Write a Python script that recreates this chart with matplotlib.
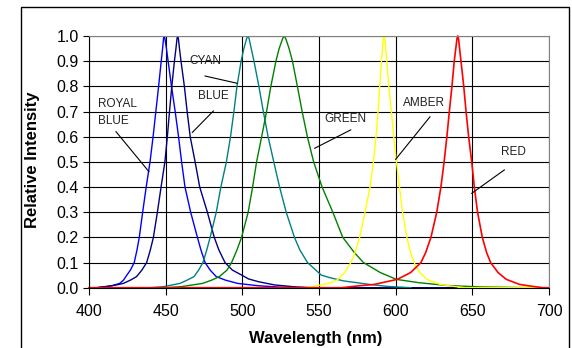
import matplotlib
matplotlib.use("Agg")
import matplotlib.pyplot as plt
from matplotlib.patches import Rectangle

plt.rcParams['font.family'] = ['Liberation Sans', 'DejaVu Sans']

# spectra (wavelength in nm, relative intensity)
royal_nm = [400, 405, 410, 415, 420, 422.5, 424, 427, 429.5, 431.3, 432.8, 435, 437.3, 439.8, 441.8, 443.6, 445.4,
            447.1, 448, 448.6, 449, 449.5, 450.5, 451.6, 453.8, 456.2, 458.4, 460.4, 462.6, 466.3, 470.7, 473,
            475.7, 479, 483, 489, 497, 510, 525, 545]
royal_i = [0, 0, 0.004, 0.008, 0.017, 0.03, 0.044, 0.07, 0.1, 0.15, 0.2, 0.3, 0.4, 0.5, 0.6, 0.7, 0.8,
           0.9, 0.95, 0.99, 1.0, 0.99, 0.95, 0.9, 0.8, 0.7, 0.6, 0.5, 0.4, 0.3, 0.2, 0.15,
           0.1, 0.07, 0.044, 0.03, 0.017, 0.008, 0.002, 0]

blue_nm = [400, 405, 412, 417, 422.4, 427, 431, 434.5, 437.6, 440, 442, 444.6, 447, 449.5, 451.1, 452.5, 454,
           455.7, 456.7, 457.4, 457.8, 458.3, 459, 460, 462.2, 464, 466, 469.2, 472.2, 477.2, 481.7, 484.7,
           488.7, 493.5, 499.6, 504, 510.4, 521, 535, 545, 640]
blue_i = [0, 0, 0.005, 0.01, 0.017, 0.03, 0.044, 0.07, 0.1, 0.15, 0.2, 0.3, 0.4, 0.5, 0.6, 0.7, 0.8,
          0.9, 0.95, 0.99, 1.0, 0.99, 0.95, 0.9, 0.8, 0.7, 0.6, 0.5, 0.4, 0.3, 0.2, 0.15,
          0.1, 0.07, 0.05, 0.035, 0.024, 0.011, 0.003, 0, 0]

cyan_nm = [440, 448.5, 459.3, 464, 468.5, 471.5, 474.3, 476.8, 479, 483, 486, 489.6, 492.3, 494.5, 496.5,
           499.2, 501, 502.8, 503.6, 504.4, 505.8, 507.6, 510.8, 513.7, 516.8, 520.5, 524.3, 528.6, 534,
           537.5, 542.5, 551.5, 557, 566, 583, 595, 610]
cyan_i = [0, 0.004, 0.017, 0.03, 0.044, 0.07, 0.1, 0.15, 0.2, 0.3, 0.4, 0.5, 0.6, 0.7, 0.8,
          0.9, 0.95, 0.99, 1.0, 0.99, 0.95, 0.9, 0.8, 0.7, 0.6, 0.5, 0.4, 0.3, 0.2,
          0.15, 0.1, 0.05, 0.04, 0.027, 0.013, 0.005, 0]

green_nm = [450, 460, 474, 480, 485, 490, 493, 496.5, 499.5, 503.8, 506.7, 509.3, 512.6, 515.8, 518.6,
            521.9, 524, 526.3, 527.3, 528.3, 530.5, 532.7, 535.9, 539, 542.4, 546.5, 552, 559, 565.5,
            573, 579, 590, 600.5, 615, 633, 655, 690]
green_i = [0, 0.004, 0.017, 0.03, 0.044, 0.07, 0.1, 0.15, 0.2, 0.3, 0.4, 0.5, 0.6, 0.7, 0.8,
           0.9, 0.95, 0.99, 1.0, 0.99, 0.95, 0.9, 0.8, 0.7, 0.6, 0.5, 0.4, 0.3, 0.2,
           0.14, 0.1, 0.06, 0.033, 0.02, 0.009, 0.003, 0]

amber_nm = [540, 545, 558, 562.3, 566.6, 570.8, 573.5, 576.5, 580, 583.3, 585.5, 587.2, 588.5, 589.6,
            590.7, 591.4, 592, 592.4, 592.9, 593.5, 594.2, 595.5, 597.2, 598.7, 600.5, 602.5, 604.5,
            607.3, 609.7, 612, 615.7, 620.5, 629, 635.6, 645, 690]
amber_i = [0, 0.003, 0.02, 0.033, 0.06, 0.1, 0.14, 0.2, 0.3, 0.4, 0.5, 0.6, 0.7, 0.8,
           0.9, 0.95, 0.99, 1.0, 0.99, 0.95, 0.9, 0.8, 0.7, 0.6, 0.5, 0.4, 0.3,
           0.2, 0.14, 0.1, 0.06, 0.033, 0.013, 0.007, 0, 0]

red_nm = [400, 565, 575.2, 586, 601, 609.7, 616.5, 619.6, 623, 626.8, 629.5, 631.6, 633.4, 635, 636.7,
          638.2, 639.2, 640, 640.5, 641, 641.7, 642.6, 644.4, 645.9, 647.6, 649.6, 651.3, 653.4, 656.5,
          659.3, 661.9, 666.8, 672.2, 680.8, 687.3, 696, 700]
red_i = [0, 0, 0.007, 0.013, 0.033, 0.06, 0.1, 0.14, 0.2, 0.3, 0.4, 0.5, 0.6, 0.7, 0.8,
         0.9, 0.95, 0.99, 1.0, 0.99, 0.95, 0.9, 0.8, 0.7, 0.6, 0.5, 0.4, 0.3, 0.2,
         0.14, 0.1, 0.06, 0.033, 0.013, 0.007, 0, 0]

# label text, text anchor (nm, I), pointer start, pointer end
labels = ["ROYAL\nBLUE", "CYAN", "BLUE", "GREEN", "AMBER", "RED"]
label_pos = [(405.9, 0.696), (465.2, 0.901), (471.1, 0.762), (553.3, 0.669), (604.6, 0.735), (668.7, 0.540)]
pointer_from = [(417.6, 0.620), (475.7, 0.841), (481.1, 0.702), (570.7, 0.627), (622.4, 0.679), (670.9, 0.468)]
pointer_to = [(439.1, 0.461), (496.7, 0.812), (467.4, 0.617), (547.2, 0.554), (600.0, 0.510), (649.6, 0.375)]

fig = plt.figure(figsize=(5.72, 3.48), dpi=100)
ax = fig.add_axes([89 / 572, 1 - 287.7 / 348, 460 / 572, 251.7 / 348])

ax.set_xlim(400, 700)
ax.set_ylim(0, 1.0)
ax.set_xticks(range(400, 701, 50))
ax.set_yticks([i / 10 for i in range(11)])
ax.set_yticklabels([f"{i / 10:.1f}" for i in range(11)])
ax.grid(True, color='black', lw=0.8)
ax.set_axisbelow(True)
ax.tick_params(axis='x', direction='out', length=5, width=0.8, pad=7, labelsize=11.5)
ax.tick_params(axis='y', direction='out', length=4.5, width=0.8, pad=3, labelsize=11.5)
for side in ['top', 'right']:
    ax.spines[side].set_color('#808080')
    ax.spines[side].set_linewidth(0.8)
for side in ['left', 'bottom']:
    ax.spines[side].set_linewidth(0.8)

lw = 1.0
ax.plot(royal_nm, royal_i, color='#0000ff', lw=lw)
ax.plot(blue_nm, blue_i, color='#000080', lw=lw)
ax.plot(cyan_nm, cyan_i, color='#008080', lw=lw)
ax.plot(green_nm, green_i, color='#008000', lw=lw)
ax.plot(amber_nm, amber_i, color='#ffff00', lw=lw)
ax.plot(red_nm, red_i, color='#ff0000', lw=1.2, clip_on=False)

for txt, pos, p0, p1 in zip(labels, label_pos, pointer_from, pointer_to):
    ax.text(pos[0], pos[1], txt, fontsize=8.5, ha='left', va='center', linespacing=1.5, color='#222222')
    ax.plot([p0[0], p1[0]], [p0[1], p1[1]], color='black', lw=0.8)

fig.text(33 / 572, 1 - 160 / 348, "Relative Intensity", rotation=90, ha='center', va='center',
         fontsize=12, fontweight='bold')
fig.text(316 / 572, 1 - 338 / 348, "Wavelength (nm)", ha='center', va='center',
         fontsize=12, fontweight='bold')

fig.add_artist(Rectangle((21 / 572, -0.05), 548 / 572, 1.05 - 7 / 348, transform=fig.transFigure,
                         fill=False, ec='black', lw=1.0))

fig.savefig("out.png", dpi=100)
